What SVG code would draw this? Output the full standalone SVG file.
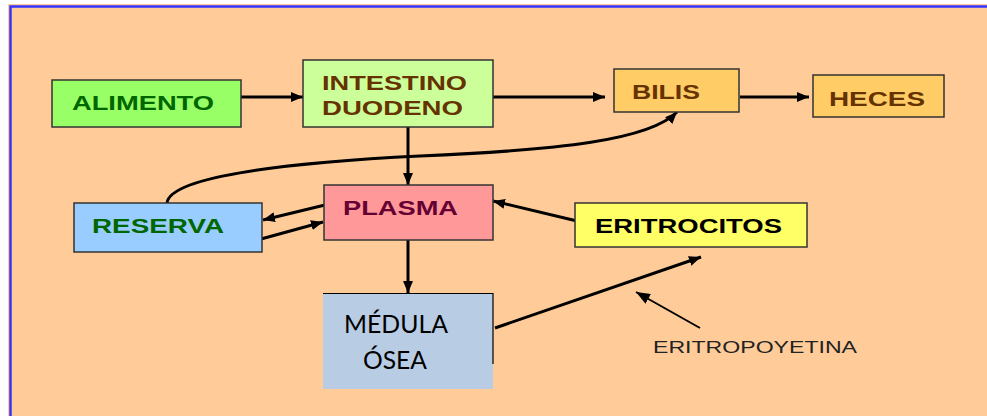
<svg xmlns="http://www.w3.org/2000/svg" width="987" height="416" viewBox="0 0 987 416">
<defs>
<marker id="ah" viewBox="0 0 12 10" refX="12" refY="5" markerWidth="12" markerHeight="10" markerUnits="userSpaceOnUse" orient="auto">
<path d="M0,0 L12,5 L0,10 Z" fill="#000"/>
</marker>
<marker id="ahs" viewBox="0 0 14 11" refX="14" refY="5.5" markerWidth="14" markerHeight="11" markerUnits="userSpaceOnUse" orient="auto">
<path d="M0,0 L14,5.5 L0,11 Z" fill="#000"/>
</marker>
</defs>
<style>
.box{stroke:#333;stroke-width:1.5}
.lbl{font-family:"Liberation Sans",Arial,sans-serif;font-weight:bold;font-size:21px}
.con{fill:none;stroke:#000;stroke-width:3;marker-end:url(#ah)}
.thin{fill:none;stroke:#000;stroke-width:2;marker-end:url(#ahs)}
</style>
<rect x="0" y="0" width="987" height="416" fill="#fff"/>
<rect x="8" y="4" width="979" height="412" fill="#FFCC99"/>
<path d="M10.5,416 V6.5 H987" fill="none" stroke="#3333FF" stroke-width="2.5"/>

<g id="connectors">
<line class="con" x1="241" y1="97" x2="303" y2="97"/>
<line class="con" x1="493" y1="97" x2="605" y2="97"/>
<line class="con" x1="740" y1="97" x2="809" y2="97"/>
<line class="con" x1="408" y1="127" x2="408" y2="185"/>
<line class="con" x1="408" y1="240" x2="408" y2="293"/>
<path class="con" d="M167,203 C170,175 300,162 420,156 C560,150 650,140 677,112"/>
<line class="con" x1="325" y1="205" x2="263" y2="220"/>
<line class="con" x1="261" y1="239" x2="323" y2="222"/>
<line class="con" x1="577" y1="221" x2="493" y2="201"/>
<line class="con" x1="495" y1="328" x2="701" y2="257"/>
<line class="thin" x1="700" y1="328" x2="636" y2="292"/>
</g>

<g id="alimento">
<rect class="box" x="52" y="80" width="189" height="47" fill="#99FF66"/>
<text class="lbl" x="72" y="110" fill="#006600" textLength="142" lengthAdjust="spacingAndGlyphs">ALIMENTO</text>
</g>
<g id="intestino">
<rect class="box" x="303" y="60" width="190" height="67" fill="#CCFF99"/>
<text class="lbl" x="322" y="90" fill="#663300" textLength="145" lengthAdjust="spacingAndGlyphs">INTESTINO</text>
<text class="lbl" x="322" y="115" fill="#663300" textLength="141" lengthAdjust="spacingAndGlyphs">DUODENO</text>
</g>
<g id="bilis">
<rect class="box" x="614" y="69" width="125" height="43" fill="#FFCC66"/>
<text class="lbl" x="632" y="99" fill="#663300" textLength="68" lengthAdjust="spacingAndGlyphs">BILIS</text>
</g>
<g id="heces">
<rect class="box" x="813" y="75" width="131" height="42" fill="#FFCC66"/>
<text class="lbl" x="829" y="106" fill="#663300" textLength="96" lengthAdjust="spacingAndGlyphs">HECES</text>
</g>
<g id="plasma">
<rect class="box" x="324" y="185" width="169" height="55" fill="#FF9999"/>
<text class="lbl" x="343" y="215" fill="#660033" textLength="115" lengthAdjust="spacingAndGlyphs">PLASMA</text>
</g>
<g id="reserva">
<rect class="box" x="74" y="203" width="188" height="49" fill="#99CCFF"/>
<text class="lbl" x="92" y="233" fill="#006600" textLength="132" lengthAdjust="spacingAndGlyphs">RESERVA</text>
</g>
<g id="eritrocitos">
<rect class="box" x="575" y="203" width="232" height="44" fill="#FFFF66"/>
<text class="lbl" x="595" y="233" fill="#000" textLength="187" lengthAdjust="spacingAndGlyphs">ERITROCITOS</text>
</g>
<g id="medula">
<rect x="323" y="293" width="170" height="96" fill="#B8CCE4"/>
<path d="M323,293.5 H493 V364" fill="none" stroke="#000" stroke-width="1.2"/>
<text x="344" y="333" font-family="Lato,'Open Sans',sans-serif" font-size="25" fill="#000" textLength="104" lengthAdjust="spacingAndGlyphs">MÉDULA</text>
<text x="363" y="369" font-family="Lato,'Open Sans',sans-serif" font-size="25" fill="#000" textLength="64" lengthAdjust="spacingAndGlyphs">ÓSEA</text>
</g>
<g id="eritropoyetina">
<text x="653" y="353" font-family="'Liberation Sans',Arial,sans-serif" font-size="17" fill="#222" textLength="204" lengthAdjust="spacingAndGlyphs">ERITROPOYETINA</text>
</g>
</svg>
